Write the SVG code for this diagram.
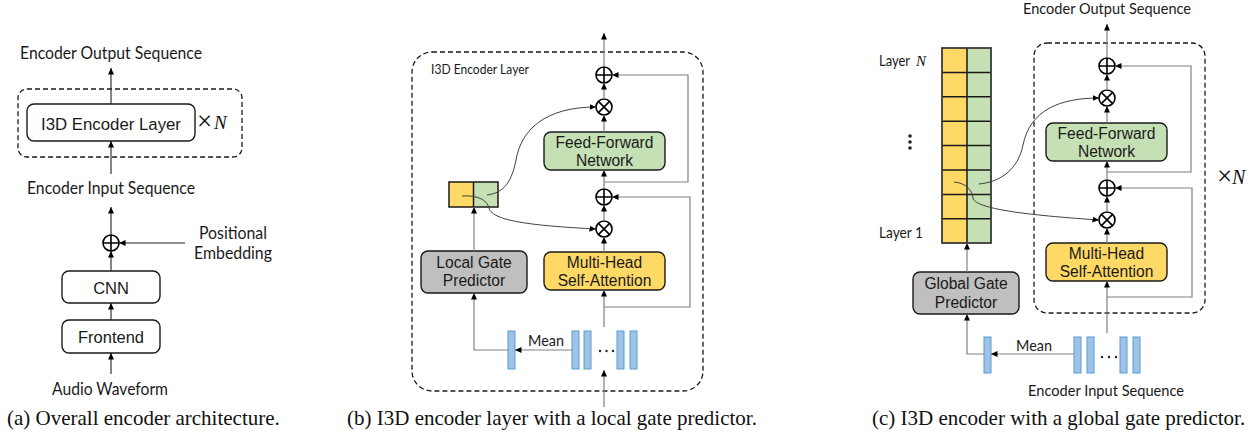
<svg xmlns="http://www.w3.org/2000/svg" width="1257" height="434" viewBox="0 0 1257 434">
<style>
.box{stroke:#1a1a1a;stroke-width:1.4}
.lbl{font-family:Lato,"Liberation Sans",sans-serif;fill:#1a1a1a}
.bt{font-family:"Liberation Sans",Arial,sans-serif;fill:#1a1a1a;text-anchor:middle}
.cap{font-family:"Liberation Serif","Times New Roman",serif;font-size:21px;fill:#111}
.mth{font-family:"Liberation Serif","Times New Roman",serif;fill:#111}
.ln{stroke:#808080;stroke-width:1.2;fill:none}
.lnk{stroke:#222;stroke-width:1.1;fill:none}
.crv{stroke:#404040;stroke-width:1;fill:none}
.dash{fill:none;stroke:#1a1a1a;stroke-width:1.3;stroke-dasharray:5 3}
.op{fill:#fff;stroke:#000;stroke-width:1.6}
.bar{fill:#9dc3e6;stroke:#5b9bd5;stroke-width:1}
.green{fill:#c5e0b4}
.yellow{fill:#ffd966}
.gray{fill:#bfbfbf}
.mid{text-anchor:middle}
</style>
<defs>
<marker id="ah" markerUnits="userSpaceOnUse" markerWidth="7" markerHeight="6" refX="6.5" refY="3" orient="auto">
<path d="M0,0 L6.5,3 L0,6 z" fill="#000"/>
</marker>
<g id="plus"><circle class="op" r="8"/><path d="M-8,0H8M0,-8V8" stroke="#000" stroke-width="1.6"/></g>
<g id="otimes"><circle class="op" r="8"/><path d="M-5.6,-5.6L5.6,5.6M-5.6,5.6L5.6,-5.6" stroke="#000" stroke-width="1.6"/></g>
</defs>
<rect width="1257" height="434" fill="#fff"/>

<!-- ===== Panel (a) ===== -->
<g id="a-output-label"><text class="lbl mid" x="111" y="59" font-size="17" textLength="182" lengthAdjust="spacingAndGlyphs">Encoder Output Sequence</text></g>
<g id="a-repeat-box">
<rect class="dash" x="18" y="89" width="224" height="68" rx="9"/>
<text class="mth" x="197" y="130" font-size="27">×</text>
<text class="mth" x="214" y="129" font-size="19" font-style="italic">N</text>
</g>
<g id="a-encoder-layer">
<rect class="box" x="27" y="104" width="168" height="37" rx="7" fill="#fff"/>
<text class="bt" x="111" y="129.5" font-size="16.8">I3D Encoder Layer</text>
</g>
<g id="a-input-label"><text class="lbl mid" x="111" y="194" font-size="17" textLength="168" lengthAdjust="spacingAndGlyphs">Encoder Input Sequence</text></g>
<g id="a-add"><use href="#plus" x="111" y="243"/></g>
<g id="a-posemb">
<text class="lbl mid" x="233" y="239" font-size="17" textLength="68" lengthAdjust="spacingAndGlyphs">Positional</text>
<text class="lbl mid" x="233" y="259" font-size="17" textLength="78" lengthAdjust="spacingAndGlyphs">Embedding</text>
</g>
<g id="a-cnn">
<rect class="box" x="62" y="271" width="98" height="32" rx="7" fill="#fff"/>
<text class="bt" x="111" y="294" font-size="16.5">CNN</text>
</g>
<g id="a-frontend">
<rect class="box" x="62" y="320" width="98" height="33" rx="7" fill="#fff"/>
<text class="bt" x="111" y="343" font-size="16.5">Frontend</text>
</g>
<g id="a-audio"><text class="lbl mid" x="110" y="395" font-size="17" textLength="116" lengthAdjust="spacingAndGlyphs">Audio Waveform</text></g>
<g id="a-caption"><text class="cap" x="7" y="425">(a) Overall encoder architecture.</text></g>

<!-- ===== Panel (b) ===== -->
<g id="b-layer-box">
<rect class="dash" x="412" y="52" width="291" height="339" rx="20"/>
<text class="lbl" x="431" y="74" font-size="13" textLength="98" lengthAdjust="spacingAndGlyphs">I3D Encoder Layer</text>
</g>
<g id="b-add2"><use href="#plus" x="604" y="75"/></g>
<g id="b-mul2"><use href="#otimes" x="604" y="107"/></g>
<g id="b-ffn">
<rect class="box green" x="544" y="132" width="121" height="38" rx="7"/>
<text class="bt" x="604.5" y="148" font-size="15.6">Feed-Forward</text>
<text class="bt" x="604.5" y="166" font-size="15.6">Network</text>
</g>
<g id="b-add1"><use href="#plus" x="604" y="197"/></g>
<g id="b-mul1"><use href="#otimes" x="604" y="229"/></g>
<g id="b-mhsa">
<rect class="box yellow" x="544" y="252" width="121" height="38" rx="7"/>
<text class="bt" x="604.5" y="268" font-size="15.6">Multi-Head</text>
<text class="bt" x="604.5" y="286" font-size="15.6">Self-Attention</text>
</g>
<g id="b-gate">
<rect class="yellow" x="449" y="182" width="24.5" height="25"/>
<rect class="green" x="473.5" y="182" width="24.5" height="25"/>
<rect x="449" y="182" width="49" height="25" fill="none" stroke="#1a1a1a" stroke-width="1.5"/>
<path d="M473.5,182V207" stroke="#1a1a1a" stroke-width="1.5"/>
</g>
<g id="b-lgp">
<rect class="box gray" x="421" y="251" width="106" height="42" rx="7"/>
<text class="bt" x="474" y="268" font-size="15.6">Local Gate</text>
<text class="bt" x="474" y="286" font-size="15.6">Predictor</text>
</g>
<g id="b-mean-vec"><rect class="bar" x="508" y="331" width="7" height="38"/></g>
<g id="b-mean-label"><text class="lbl mid" x="546" y="346" font-size="15" textLength="36" lengthAdjust="spacingAndGlyphs">Mean</text></g>
<g id="b-sequence">
<rect class="bar" x="572" y="331" width="7" height="38"/>
<rect class="bar" x="584" y="331" width="7" height="38"/>
<circle cx="600" cy="351" r="1.2" fill="#222"/>
<circle cx="606.5" cy="351" r="1.2" fill="#222"/>
<circle cx="613" cy="351" r="1.2" fill="#222"/>
<rect class="bar" x="617" y="331" width="7" height="38"/>
<rect class="bar" x="630" y="331" width="7" height="38"/>
</g>
<g id="b-caption"><text class="cap" x="347" y="425">(b) I3D encoder layer with a local gate predictor.</text></g>

<!-- ===== Panel (c) ===== -->
<g id="c-output-label"><text class="lbl mid" x="1107" y="13.5" font-size="16" textLength="168" lengthAdjust="spacingAndGlyphs">Encoder Output Sequence</text></g>
<g id="c-layer-box">
<rect class="dash" x="1034" y="43" width="171" height="270" rx="13"/>
<text class="mth" x="1217" y="185" font-size="27">×</text>
<text class="mth" x="1232" y="184" font-size="20" font-style="italic">N</text>
</g>
<g id="c-add2"><use href="#plus" x="1107" y="66"/></g>
<g id="c-mul2"><use href="#otimes" x="1107" y="98"/></g>
<g id="c-ffn">
<rect class="box green" x="1046" y="123" width="121" height="38" rx="7"/>
<text class="bt" x="1106.5" y="139" font-size="15.6">Feed-Forward</text>
<text class="bt" x="1106.5" y="157" font-size="15.6">Network</text>
</g>
<g id="c-add1"><use href="#plus" x="1107" y="188"/></g>
<g id="c-mul1"><use href="#otimes" x="1107" y="220"/></g>
<g id="c-mhsa">
<rect class="box yellow" x="1046" y="243" width="121" height="38" rx="7"/>
<text class="bt" x="1106.5" y="259" font-size="15.6">Multi-Head</text>
<text class="bt" x="1106.5" y="277" font-size="15.6">Self-Attention</text>
</g>
<g id="c-gates">
<rect class="yellow" x="942" y="48" width="25" height="195"/>
<rect class="green" x="967" y="48" width="24" height="195"/>
<path d="M942,72.4H991M942,96.8H991M942,121.2H991M942,145.6H991M942,170H991M942,194.4H991M942,218.8H991M967,48V243" stroke="#1a1a1a" stroke-width="1.5" fill="none"/>
<rect x="942" y="48" width="49" height="195" fill="none" stroke="#3a3a3a" stroke-width="1.8"/>
<text class="lbl" x="879" y="66" font-size="15" textLength="31" lengthAdjust="spacingAndGlyphs">Layer</text>
<text class="mth" x="916" y="66" font-size="15" font-style="italic">N</text>
<circle cx="910" cy="136" r="1.8" fill="#222"/>
<circle cx="910" cy="142" r="1.8" fill="#222"/>
<circle cx="910" cy="148" r="1.8" fill="#222"/>
<text class="lbl" x="879" y="238" font-size="15" textLength="44" lengthAdjust="spacingAndGlyphs">Layer 1</text>
</g>
<g id="c-ggp">
<rect class="box gray" x="913" y="272" width="106" height="42" rx="7"/>
<text class="bt" x="966" y="289" font-size="15.6">Global Gate</text>
<text class="bt" x="966" y="308" font-size="15.6">Predictor</text>
</g>
<g id="c-mean-vec"><rect class="bar" x="984" y="337" width="7" height="36"/></g>
<g id="c-mean-label"><text class="lbl mid" x="1034" y="351" font-size="15" textLength="36" lengthAdjust="spacingAndGlyphs">Mean</text></g>
<g id="c-sequence">
<rect class="bar" x="1074" y="337" width="7" height="36"/>
<rect class="bar" x="1087" y="337" width="7" height="36"/>
<circle cx="1102" cy="357" r="1.2" fill="#222"/>
<circle cx="1109" cy="357" r="1.2" fill="#222"/>
<circle cx="1116" cy="357" r="1.2" fill="#222"/>
<rect class="bar" x="1120" y="337" width="7" height="36"/>
<rect class="bar" x="1133" y="337" width="7" height="36"/>
</g>
<g id="c-input-label"><text class="lbl mid" x="1106" y="396" font-size="16" textLength="156" lengthAdjust="spacingAndGlyphs">Encoder Input Sequence</text></g>
<g id="c-caption"><text class="cap" x="872" y="425">(c) I3D encoder with a global gate predictor.</text></g>

<!-- connectors (drawn last so gate curves show inside cells) -->
<g id="connectors">
<!-- panel a -->
<path class="lnk" d="M111,104V68" marker-end="url(#ah)"/>
<path class="lnk" d="M111,174V141" marker-end="url(#ah)"/>
<path class="lnk" d="M111,235V207" marker-end="url(#ah)"/>
<path class="lnk" d="M185,243H119" marker-end="url(#ah)"/>
<path class="lnk" d="M111,271V251" marker-end="url(#ah)"/>
<path class="lnk" d="M111,320V303" marker-end="url(#ah)"/>
<path class="lnk" d="M111,374V353" marker-end="url(#ah)"/>
<!-- panel b -->
<path class="ln" d="M604,67V33" marker-end="url(#ah)"/>
<path class="ln" d="M604,99V83" marker-end="url(#ah)"/>
<path class="ln" d="M604,132V115" marker-end="url(#ah)"/>
<path class="ln" d="M604,189V170" marker-end="url(#ah)"/>
<path class="ln" d="M604,182H688V75H612" marker-end="url(#ah)"/>
<path class="ln" d="M604,221V205" marker-end="url(#ah)"/>
<path class="ln" d="M604,252V237" marker-end="url(#ah)"/>
<path class="ln" d="M604,327V290" marker-end="url(#ah)"/>
<path class="ln" d="M604,307H690V197H612" marker-end="url(#ah)"/>
<path class="ln" d="M604,407V370" marker-end="url(#ah)"/>
<path class="ln" d="M572,350H515" marker-end="url(#ah)"/>
<path class="ln" d="M508,350H474V293" marker-end="url(#ah)"/>
<path class="ln" d="M474,251V207" marker-end="url(#ah)"/>
<path class="crv" d="M487,195C505,193 512,180 516,160C521,130 545,107 596,107" marker-end="url(#ah)"/>
<path class="crv" d="M462,196C478,195 487,200 489,208C492,222 540,226 596,229" marker-end="url(#ah)"/>
<!-- panel c -->
<path class="ln" d="M1107,58V24" marker-end="url(#ah)"/>
<path class="ln" d="M1107,90V74" marker-end="url(#ah)"/>
<path class="ln" d="M1107,123V106" marker-end="url(#ah)"/>
<path class="ln" d="M1107,180V161" marker-end="url(#ah)"/>
<path class="ln" d="M1107,172H1191V66H1115" marker-end="url(#ah)"/>
<path class="ln" d="M1107,212V196" marker-end="url(#ah)"/>
<path class="ln" d="M1107,243V228" marker-end="url(#ah)"/>
<path class="ln" d="M1107,333V281" marker-end="url(#ah)"/>
<path class="ln" d="M1107,297H1192V188H1115" marker-end="url(#ah)"/>
<path class="ln" d="M1074,354H991" marker-end="url(#ah)"/>
<path class="ln" d="M984,354H967V314" marker-end="url(#ah)"/>
<path class="ln" d="M967,272V243" marker-end="url(#ah)"/>
<path class="crv" d="M979,184C1000,182 1018,170 1023,145C1030,110 1060,98 1099,98" marker-end="url(#ah)"/>
<path class="crv" d="M954,182C966,183 972,190 973,198C975,210 1040,216 1099,220" marker-end="url(#ah)"/>
</g>
</svg>
